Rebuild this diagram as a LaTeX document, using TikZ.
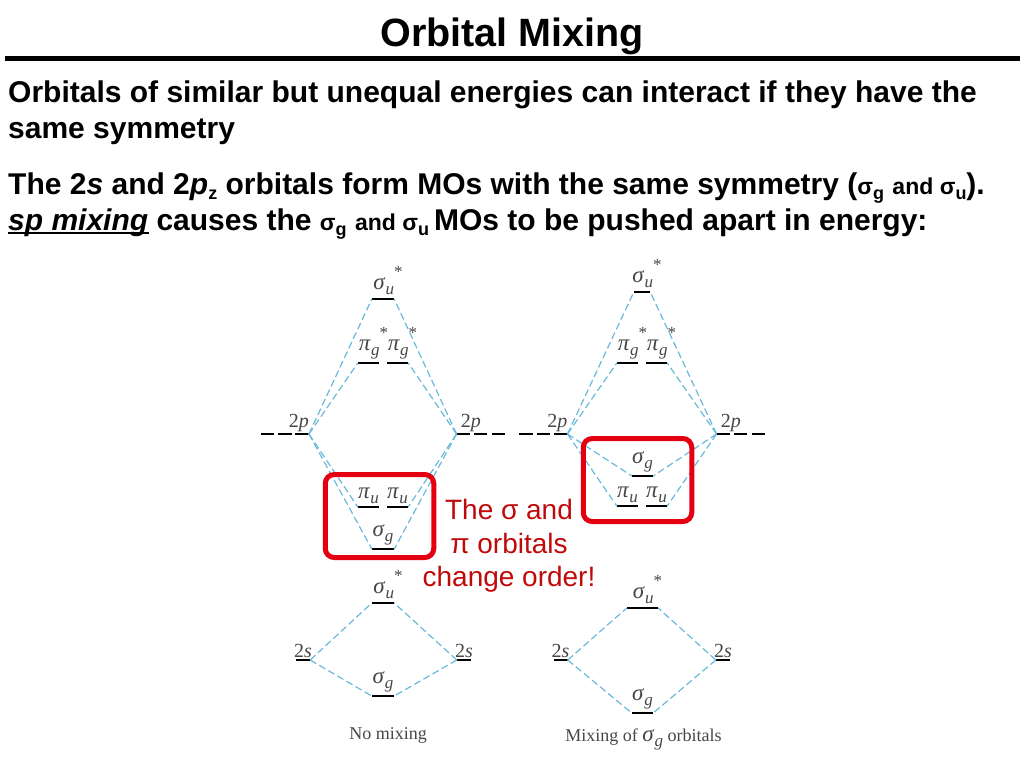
\documentclass[tikz,border=0pt]{standalone}
\usepackage{fontspec}
\usepackage{tikz}
\usetikzlibrary{positioning}
\setmainfont{Liberation Sans}
\newfontfamily\bookfont{Liberation Serif}
\definecolor{mixblue}{RGB}{105,185,220}
\definecolor{boxred}{RGB}{228,0,16}
\definecolor{notered}{RGB}{192,10,10}
\definecolor{bookgray}{RGB}{70,70,70}
\newcommand{\orb}[2]{{\fontsize{23}{23}\selectfont\textit{#1}}\raisebox{-5pt}{\fontsize{17}{17}\selectfont\textit{#2}}}
\newcommand{\orbstar}[2]{\orb{#1}{#2}\raisebox{12pt}{\fontsize{17}{17}\selectfont *}}
\newcommand{\lowb}[1]{\raisebox{-5pt}{\fontsize{18}{18}\selectfont #1}}
\newcommand{\smb}[1]{{\fontsize{23}{23}\selectfont #1}}

\begin{document}
\begin{tikzpicture}[
    x=1pt, y=-1pt,
    line/.style={anchor=base west, inner sep=0pt, font=\fontsize{30}{34}\selectfont\bfseries},
    level/.style={rectangle, fill=black, inner sep=0pt, minimum height=2.4pt},
    narrow/.style={level, minimum width=22pt},
    wide/.style={level, minimum width=21pt},
    dashpart/.style={level, minimum width=13.5pt},
    orbital/.style={inner sep=0pt, text=bookgray, font=\fontsize{20}{20}\selectfont\bookfont},
    caption/.style={inner sep=0pt, text=bookgray, font=\fontsize{18}{20}\selectfont\bookfont},
    mix/.style={mixblue, dashed, dash pattern=on 7pt off 3.5pt, line width=1.2pt},
    redbox/.style={rectangle, draw=boxred, line width=5pt, rounded corners=9pt, inner sep=0pt},
    note/.style={anchor=base, inner sep=0pt, text=notered, font=\fontsize{28}{28}\selectfont}
]
    \useasboundingbox (0,0) rectangle (1024,768);

    % Heading
    \node[anchor=base, inner sep=0pt, font=\fontsize{39.5}{40}\selectfont\bfseries] (title) at (512,47) {Orbital Mixing};
    \node[rectangle, fill=black, inner sep=0pt, minimum width=1015pt, minimum height=4pt] (rule) at (512.5,58.5) {};

    % Body text
    \node[line] (lineA) at (8,102) {Orbitals of similar but unequal energies can interact if they have the};
    \node[line] (lineB) at (8,138) {same symmetry};
    \node[line] (lineC) at (8,194) {The 2\textit{s} and 2\textit{p}\lowb{z} orbitals form MOs with the same symmetry (\smb{σ}\lowb{g} \smb{and σ}\lowb{u}).};
    \node[line] (lineD) at (8,230) {\rlap{\rule[-4pt]{141pt}{2.2pt}}\textit{sp mixing} causes the \smb{σ}\lowb{g} \smb{and σ}\lowb{u}\,MOs to be pushed apart in energy:};

    % Left 2p set
    \node[narrow] (suL) at (383,299) {};
    \node[wide] (pgLa) at (368.5,363) {};
    \node[wide] (pgLb) at (397.5,363) {};
    \node[wide] (puLa) at (368.5,507) {};
    \node[wide] (puLb) at (397.5,507) {};
    \node[narrow] (sgL) at (383,549) {};
    \node[dashpart] (inLa) at (267.5,434) {};
    \node[dashpart] (inLb) at (285,434) {};
    \node[dashpart] (inLc) at (302,434) {};
    \node[dashpart] (inRa) at (463.5,434) {};
    \node[dashpart] (inRb) at (480.5,434) {};
    \node[dashpart] (inRc) at (498.5,434) {};

    % Right 2p set
    \node[level, minimum width=16pt] (suM) at (642,292) {};
    \node[wide] (pgMa) at (627.5,363) {};
    \node[wide] (pgMb) at (656.5,363) {};
    \node[wide] (puMa) at (627.5,506) {};
    \node[wide] (puMb) at (656.5,506) {};
    \node[wide] (sgM) at (642.5,476) {};
    \node[dashpart] (onLa) at (526,434) {};
    \node[dashpart] (onLb) at (543.5,434) {};
    \node[dashpart] (onLc) at (560.5,434) {};
    \node[dashpart] (onRa) at (723.5,434) {};
    \node[dashpart] (onRb) at (740.5,434) {};
    \node[dashpart] (onRc) at (758.5,434) {};

    % Left 2s set
    \node[narrow] (ssL) at (383,603) {};
    \node[narrow] (tgL) at (383,696) {};
    \node[level, minimum width=14pt] (inS) at (303,660) {};
    \node[level, minimum width=14pt] (inT) at (464,660) {};

    % Right 2s set
    \node[level, minimum width=31pt] (ssM) at (642.5,608) {};
    \node[wide] (tgM) at (642.5,713) {};
    \node[level, minimum width=14pt] (onS) at (560.5,660) {};
    \node[level, minimum width=14pt] (onT) at (723,660) {};

    % Dashed connectors
    \foreach \a/\b in {inLc/suL, inLc/pgLa, inLc/puLa, inLc/sgL, onLc/suM, onLc/pgMa, onLc/puMa, onLc/sgM, inS/ssL, inS/tgL, onS/ssM, onS/tgM}
        \draw[mix] (\a.east) -- (\b.west);
    \foreach \a/\b in {inRa/suL, inRa/pgLb, inRa/puLb, inRa/sgL, onRa/suM, onRa/pgMb, onRa/puMb, onRa/sgM, inT/ssL, inT/tgL, onT/ssM, onT/tgM}
        \draw[mix] (\a.west) -- (\b.east);

    % Orbital labels
    \node[orbital, above=3pt of suL, xshift=5pt] (suLname) {\orbstar{σ}{u}};
    \node[orbital, above=2pt of pgLa, xshift=5pt] (pgLaname) {\orbstar{π}{g}};
    \node[orbital, above=2pt of pgLb, xshift=5pt] (pgLbname) {\orbstar{π}{g}};
    \node[orbital, above=2pt of puLa] (puLaname) {\orb{π}{u}};
    \node[orbital, above=2pt of puLb] (puLbname) {\orb{π}{u}};
    \node[orbital, above=2pt of sgL] (sgLname) {\orb{σ}{g}};
    \node[orbital, above left=2pt and 0pt of inLc.east] (twoInL) {2\textit{p}};
    \node[orbital, above right=2pt and 4pt of inRa.west] (twoInR) {2\textit{p}};

    \node[orbital, above=3pt of suM, xshift=5pt] (suMname) {\orbstar{σ}{u}};
    \node[orbital, above=2pt of pgMa, xshift=5pt] (pgManame) {\orbstar{π}{g}};
    \node[orbital, above=2pt of pgMb, xshift=5pt] (pgMbname) {\orbstar{π}{g}};
    \node[orbital, above=2pt of puMa] (puManame) {\orb{π}{u}};
    \node[orbital, above=2pt of puMb] (puMbname) {\orb{π}{u}};
    \node[orbital, above=2pt of sgM] (sgMname) {\orb{σ}{g}};
    \node[orbital, above left=2pt and 0pt of onLc.east] (twoOnL) {2\textit{p}};
    \node[orbital, above right=2pt and 4pt of onRa.west] (twoOnR) {2\textit{p}};

    \node[orbital, above=3pt of ssL, xshift=5pt] (ssLname) {\orbstar{σ}{u}};
    \node[orbital, above=2pt of tgL] (tgLname) {\orb{σ}{g}};
    \node[orbital, above=1pt of inS] (sInL) {2\textit{s}};
    \node[orbital, above=1pt of inT] (sInR) {2\textit{s}};
    \node[orbital, above=3pt of ssM, xshift=5pt] (ssMname) {\orbstar{σ}{u}};
    \node[orbital, above=2pt of tgM] (tgMname) {\orb{σ}{g}};
    \node[orbital, above=1pt of onS] (sOnL) {2\textit{s}};
    \node[orbital, above=1pt of onT] (sOnR) {2\textit{s}};

    % Captions
    \node[caption] (noMix) at (388,735) {No mixing};
    \node[caption, anchor=base] (yesMix) at (643.5,741) {Mixing of \orb{σ}{g} orbitals};

    % Red highlights
    \node[redbox, minimum width=108.5pt, minimum height=83pt] (boxL) at (379.5,516) {};
    \node[redbox, minimum width=108.5pt, minimum height=83pt] (boxM) at (637.5,480) {};
    \node[note] (noteA) at (509,519) {The σ and};
    \node[note] (noteB) at (509,553) {π orbitals};
    \node[note] (noteC) at (509,586) {change order!};
\end{tikzpicture}
\end{document}
